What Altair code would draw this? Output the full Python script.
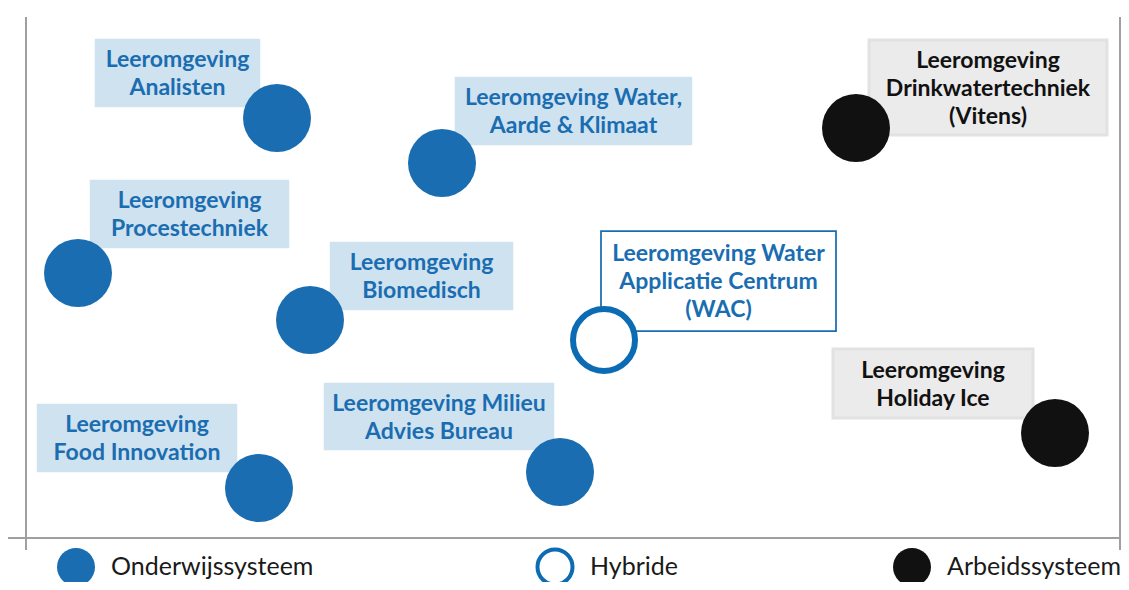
import altair as alt
import pandas as pd

# ---- data (chart units: origin at the crossing of the two axis lines) ----
labels = [
    "Leeromgeving\nAnalisten",
    "Leeromgeving Water,\nAarde & Klimaat",
    "Leeromgeving\nProcestechniek",
    "Leeromgeving\nBiomedisch",
    "Leeromgeving\nFood Innovation",
    "Leeromgeving Milieu\nAdvies Bureau",
    "Leeromgeving Water\nApplicatie Centrum\n(WAC)",
    "Leeromgeving\nDrinkwatertechniek\n(Vitens)",
    "Leeromgeving\nHoliday Ice",
]
systems = ["Onderwijssysteem"] * 6 + ["Hybride"] + ["Arbeidssysteem"] * 2
point_x = [251, 416, 52, 284, 233, 534, 578, 830, 1029]
point_y = [420, 375, 265, 218, 50, 66, 198, 410, 105]
box_x1 = [69, 429, 64, 304, 11, 298, 575, 843, 807]
box_x2 = [234, 666, 263, 487, 211, 528, 810, 1081, 1007]
box_y1 = [431, 393, 290, 228, 66, 88, 207, 403, 120]
box_y2 = [499, 461, 358, 296, 134, 155, 307, 498, 189]

legend_names = ["Onderwijssysteem", "Hybride", "Arbeidssysteem"]
legend_x = [50, 529, 886]
legend_y = [-29, -29, -29]

axis_x1 = [0, -18, 1094]
axis_x2 = [0, 1095, 1094]
axis_y1 = [521, 0, 521]
axis_y2 = [-12, 0, -12]

# ---- styling ----
BLUE = "#0b6cb3"
TEXT_BLUE = "#1a6db0"
LIGHT_BLUE = "#cfe2f0"
GREY_BOX = "#ebebeb"
FONT = "Lato"
LINE_H = 28

df = pd.DataFrame({
    "label": labels, "system": systems,
    "px": point_x, "py": point_y,
    "x1": box_x1, "x2": box_x2, "y1": box_y1, "y2": box_y2,
})
df["cx"] = (df["x1"] + df["x2"]) / 2
df["nlines"] = df["label"].str.count("\n") + 1
df["cy"] = (df["y1"] + df["y2"]) / 2 + (df["nlines"] - 1) * LINE_H / 2 - 1

leg = pd.DataFrame({"name": legend_names, "lx": legend_x, "ly": legend_y})
leg["tx"] = leg["lx"] + 35

axes = pd.DataFrame({"x1": axis_x1, "x2": axis_x2, "y1": axis_y1, "y2": axis_y2})

W, H = 1113, 574
xs = alt.Scale(domain=[-18, 1095], nice=False, zero=False)
ys = alt.Scale(domain=[-44, 530], nice=False, zero=False)
X = lambda f: alt.X(f, type="quantitative", scale=xs, axis=None)
Y = lambda f: alt.Y(f, type="quantitative", scale=ys, axis=None)

sysdom = ["Onderwijssysteem", "Hybride", "Arbeidssysteem"]
box_fill = alt.Color("system:N", scale=alt.Scale(domain=sysdom, range=[LIGHT_BLUE, "#ffffff", GREY_BOX]), legend=None)
box_stroke = alt.Stroke("system:N", scale=alt.Scale(domain=sysdom, range=[LIGHT_BLUE, TEXT_BLUE, "#e2e2e2"]), legend=None)
box_sw = alt.StrokeWidth("system:N", scale=alt.Scale(domain=sysdom, range=[0.5, 3, 1]), legend=None)
text_col = alt.Color("system:N", scale=alt.Scale(domain=sysdom, range=[TEXT_BLUE, TEXT_BLUE, "#111111"]), legend=None)
dot_col = alt.Color("system:N", scale=alt.Scale(domain=sysdom, range=[BLUE, "#ffffff", "#000000"]), legend=None)

base = alt.Chart(df)

axis_lines = alt.Chart(axes).mark_rule(color="#a0a0a0", strokeWidth=2).encode(
    x=X("x1"), x2="x2", y=Y("y1"), y2="y2")

boxes = base.mark_rect().encode(
    x=X("x1"), x2="x2", y=Y("y1"), y2="y2",
    fill=box_fill, stroke=box_stroke, strokeWidth=box_sw)

texts = base.mark_text(font=FONT, fontSize=23, fontWeight="bold", lineBreak="\n",
                       lineHeight=LINE_H, align="center", baseline="middle").encode(
    x=X("cx"), y=Y("cy"), text="label:N", color=text_col)

filled = base.transform_filter(alt.datum.system != "Hybride").mark_circle(
    size=4624, opacity=1).encode(x=X("px"), y=Y("py"), color=dot_col)

hybrid = base.transform_filter(alt.datum.system == "Hybride").mark_point(
    shape="circle", size=3844, filled=True, fill="#ffffff", stroke=BLUE,
    strokeWidth=6, opacity=1).encode(x=X("px"), y=Y("py"))

legc = alt.Chart(leg)
leg_filled = legc.transform_filter(alt.datum.name != "Hybride").mark_circle(
    size=1444, opacity=1).encode(
    x=X("lx"), y=Y("ly"),
    color=alt.Color("name:N", scale=alt.Scale(domain=sysdom, range=[BLUE, "#ffffff", "#000000"]), legend=None))
leg_hybrid = legc.transform_filter(alt.datum.name == "Hybride").mark_point(
    shape="circle", size=1225, filled=True, fill="#ffffff", stroke=BLUE,
    strokeWidth=4, opacity=1).encode(x=X("lx"), y=Y("ly"))
leg_text = legc.mark_text(font=FONT, fontSize=25, align="left", baseline="middle",
                          color="#1a1a1a").encode(x=X("tx"), y=Y("ly"), text="name:N")

chart = alt.layer(axis_lines, boxes, texts, filled, hybrid, leg_filled, leg_hybrid, leg_text).properties(
    width=W, height=H, padding=0, autosize=alt.AutoSizeParams(type="none"),
).configure_view(stroke=None)

chart.save("out.html", embed_options={"renderer": "svg", "actions": False})
